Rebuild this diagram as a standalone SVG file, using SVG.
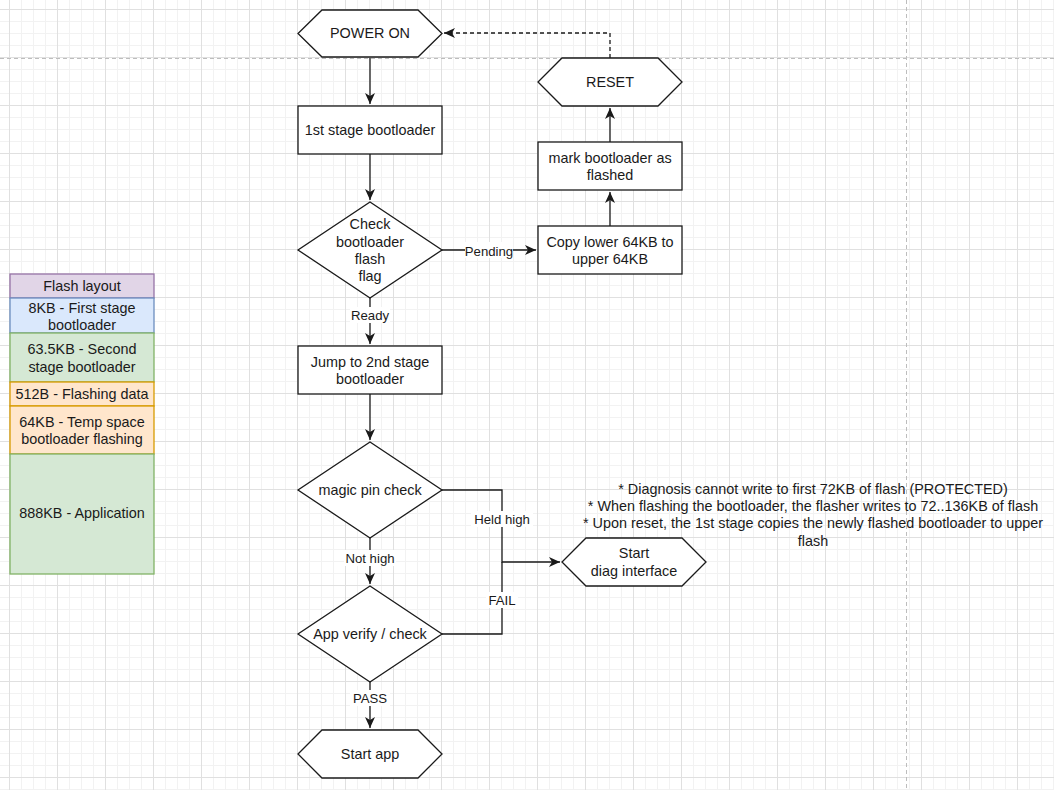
<svg xmlns="http://www.w3.org/2000/svg" width="1054" height="790" viewBox="0 0 1054 790">
<defs>
<pattern id="grid" patternUnits="userSpaceOnUse" x="9" y="9" width="48" height="48">
<path d="M12.5,0V48M24.5,0V48M36.5,0V48M0,12.5H48M0,24.5H48M0,36.5H48" stroke="#f2f2f2" stroke-width="1" fill="none"/>
<path d="M0.5,0V48M0,0.5H48" stroke="#e0e0e0" stroke-width="1" fill="none"/>
</pattern>
<marker id="arr" markerUnits="userSpaceOnUse" viewBox="0 0 12 10" refX="11" refY="5" markerWidth="12" markerHeight="10" orient="auto">
<path d="M0,0 L11,5 L0,10 L3,5 Z" fill="#1a1a1a"/>
</marker>
</defs>
<style>
.node{fill:#ffffff;stroke:#1a1a1a;stroke-width:1.3}
.t{font-family:"Liberation Sans",Arial,sans-serif;font-size:14.4px;fill:#1a1a1a;text-anchor:middle;dominant-baseline:central}
.el{font-family:"Liberation Sans",Arial,sans-serif;font-size:13.2px;fill:#1a1a1a;text-anchor:middle;dominant-baseline:central}
.edge{fill:none;stroke:#1a1a1a;stroke-width:1.3}
.lbg{fill:#ffffff}
</style>
<rect x="0" y="0" width="1054" height="790" fill="#ffffff"/>
<rect x="0" y="0" width="1054" height="790" fill="url(#grid)"/>
<g id="page-breaks" stroke="#bdbdbd" stroke-width="1" stroke-dasharray="4 3" fill="none">
<path d="M0,58.5H1054"/>
<path d="M906.5,0V790"/>
</g>

<g id="connectors">
<path class="edge" d="M370,58V104" marker-end="url(#arr)"/>
<path class="edge" d="M370,154V200" marker-end="url(#arr)"/>
<path class="edge" d="M442,250H536" marker-end="url(#arr)"/>
<rect class="lbg" x="465" y="242" width="48" height="16"/>
<text class="el" x="489" y="251">Pending</text>
<path class="edge" d="M610,226V192" marker-end="url(#arr)"/>
<path class="edge" d="M610,142V108" marker-end="url(#arr)"/>
<path class="edge" d="M610,58V33H444" stroke-dasharray="4 3" marker-end="url(#arr)"/>
<path class="edge" d="M370,298V344" marker-end="url(#arr)"/>
<rect class="lbg" x="350" y="307" width="40" height="16"/>
<text class="el" x="370" y="315">Ready</text>
<path class="edge" d="M370,394V440" marker-end="url(#arr)"/>
<path class="edge" d="M370,538V584" marker-end="url(#arr)"/>
<rect class="lbg" x="344" y="550" width="52" height="16"/>
<text class="el" x="370" y="558">Not high</text>
<path class="edge" d="M370,682V728" marker-end="url(#arr)"/>
<rect class="lbg" x="350" y="690" width="40" height="16"/>
<text class="el" x="370" y="698">PASS</text>
<path class="edge" d="M442,490H502V562H560" marker-end="url(#arr)"/>
<path class="edge" d="M442,634H502V562"/>
<rect class="lbg" x="471" y="511" width="62" height="16"/>
<text class="el" x="502" y="519">Held high</text>
<rect class="lbg" x="486" y="592" width="32" height="16"/>
<text class="el" x="502" y="600">FAIL</text>
</g>

<g id="power-on">
<path class="node" d="M322,10H418L442,33.5L418,57H322L298,33.5Z"/>
<text class="t" x="370" y="33">POWER ON</text>
</g>
<g id="first-stage">
<rect class="node" x="298" y="106" width="144" height="48"/>
<text class="t" x="370" y="130">1st stage bootloader</text>
</g>
<g id="check-flag">
<path class="node" d="M370,202L442,250L370,298L298,250Z"/>
<text class="t" x="370" y="224">Check</text>
<text class="t" x="370" y="241.5">bootloader</text>
<text class="t" x="370" y="259">flash</text>
<text class="t" x="370" y="276">flag</text>
</g>
<g id="copy-lower">
<rect class="node" x="538" y="226" width="144" height="48"/>
<text class="t" x="610" y="241.5">Copy lower 64KB to</text>
<text class="t" x="610" y="259">upper 64KB</text>
</g>
<g id="mark-flashed">
<rect class="node" x="538" y="142" width="144" height="48"/>
<text class="t" x="610" y="157.5">mark bootloader as</text>
<text class="t" x="610" y="175">flashed</text>
</g>
<g id="reset">
<path class="node" d="M562,58H658L682,82L658,106H562L538,82Z"/>
<text class="t" x="610" y="81.5">RESET</text>
</g>
<g id="jump-second">
<rect class="node" x="298" y="346" width="144" height="48"/>
<text class="t" x="370" y="361.5">Jump to 2nd stage</text>
<text class="t" x="370" y="379">bootloader</text>
</g>
<g id="magic-pin">
<path class="node" d="M370,442L442,490L370,538L298,490Z"/>
<text class="t" x="370" y="489.5">magic pin check</text>
</g>
<g id="app-verify">
<path class="node" d="M370,586L442,634L370,682L298,634Z"/>
<text class="t" x="370" y="633.5">App verify / check</text>
</g>
<g id="start-diag">
<path class="node" d="M586,538H682L706,562L682,586H586L562,562Z"/>
<text class="t" x="634" y="553">Start</text>
<text class="t" x="634" y="571">diag interface</text>
</g>
<g id="start-app">
<path class="node" d="M322,730H418L442,754L418,778H322L298,754Z"/>
<text class="t" x="370" y="753.5">Start app</text>
</g>
<g id="notes">
<text class="t" x="813" y="488.5">* Diagnosis cannot write to first 72KB of flash (PROTECTED)</text>
<text class="t" x="813" y="505.5">* When flashing the bootloader, the flasher writes to 72..136KB of flash</text>
<text class="t" x="813" y="523">* Upon reset, the 1st stage copies the newly flashed bootloader to upper</text>
<text class="t" x="813" y="540.5">flash</text>
</g>
<g id="flash-layout">
<rect x="10" y="274" width="144" height="24" fill="#e1d5e7" stroke="#9673a6" stroke-width="1.3"/>
<text class="t" x="82" y="285.5">Flash layout</text>
<rect x="10" y="298" width="144" height="35" fill="#dae8fc" stroke="#6c8ebf" stroke-width="1.3"/>
<text class="t" x="82" y="307.5">8KB - First stage</text>
<text class="t" x="82" y="324.5">bootloader</text>
<rect x="10" y="333" width="144" height="49" fill="#d5e8d4" stroke="#82b366" stroke-width="1.3"/>
<text class="t" x="82" y="349">63.5KB - Second</text>
<text class="t" x="82" y="367">stage bootloader</text>
<rect x="10" y="382" width="144" height="24" fill="#ffe6cc" stroke="#d79b00" stroke-width="1.3"/>
<text class="t" x="82" y="393.5">512B - Flashing data</text>
<rect x="10" y="406" width="144" height="48" fill="#ffe6cc" stroke="#d79b00" stroke-width="1.3"/>
<text class="t" x="82" y="421.5">64KB - Temp space</text>
<text class="t" x="82" y="439">bootloader flashing</text>
<rect x="10" y="454" width="144" height="120" fill="#d5e8d4" stroke="#82b366" stroke-width="1.3"/>
<text class="t" x="82" y="513">888KB - Application</text>
</g>
</svg>
